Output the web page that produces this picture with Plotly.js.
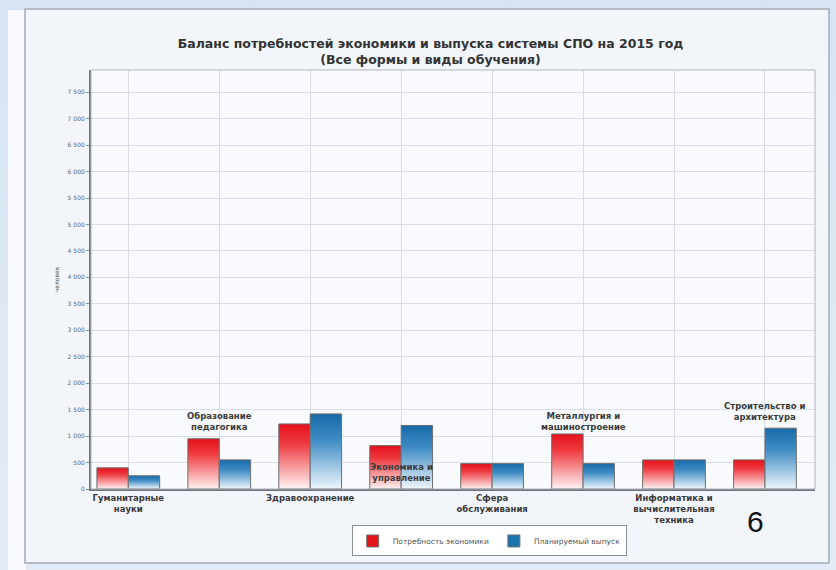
<!DOCTYPE html>
<html>
<head>
<meta charset="utf-8">
<script src="https://cdn.plot.ly/plotly-3.0.1.min.js"></script>
<style>
  html, body { margin:0; padding:0; width:836px; height:570px; overflow:hidden; }
  body { background: linear-gradient(180deg, #d6e4f2 0%, #e3ecf6 100%); position:relative; font-family:"Liberation Sans", Arial, sans-serif; }
  #strip { position:absolute; left:8px; top:10px; width:18px; height:560px; background:#f7f9fc; }
  #panel { position:absolute; left:24px; top:8px; width:806px; height:556px; background:#f2f5fa; border:2px solid #b5bcc5; box-sizing:border-box; }
  #chart { position:absolute; left:0; top:0; width:836px; height:570px; }
</style>
</head>
<body>
<div id="strip"></div>
<div id="panel"></div>
<div id="chart"></div>
<script>
// ---- data ----
const categories = [
  "Гуманитарные<br>науки",
  "Образование<br>педагогика",
  "Здравоохранение",
  "Экономика и<br>управление",
  "Сфера<br>обслуживания",
  "Металлургия и<br>машиностроение",
  "Информатика и<br>вычислительная<br>техника",
  "Строительство и<br>архитектура"
];
const demand = [400, 950, 1230, 820, 480, 1040, 550, 550];   // Потребность экономики
const output = [250, 550, 1420, 1200, 480, 480, 550, 1150];  // Планируемый выпуск
const seriesNames = ["Потребность экономики", "Планируемый выпуск"];
const titleText = "<b>Баланс потребностей экономики и выпуска системы СПО на 2015 год</b><br><b>(Все формы и виды обучения)</b>";
const yTitle = "человек";
const slideNumber = "6";

// ---- layout helpers (positions kept out of data) ----
const upperLabelY = {1: 0.160, 3: 0.040, 5: 0.162, 7: 0.184};
const catIdx = categories.map((c, i) => i);
const tickText = categories.map((c, i) => (i % 2 === 0 ? "<b>" + c + "</b>" : ""));
const labelFont = { family: "DejaVu Sans", size: 8.5, color: "#3a3a3a" };

const traces = [
  { type: "bar", name: seriesNames[0], x: catIdx, y: demand,
    marker: { color: "#e3141c", line: { color: "#6f6f6f", width: 1 } }, hoverinfo: "none" },
  { type: "bar", name: seriesNames[1], x: catIdx, y: output,
    marker: { color: "#1d72b0", line: { color: "#6f6f6f", width: 1 } }, hoverinfo: "none" }
];

const annotations = Object.keys(upperLabelY).map(k => ({
  x: Number(k), xref: "x", y: upperLabelY[k], yref: "paper",
  xanchor: "center", yanchor: "middle",
  text: "<b>" + categories[k] + "</b>", showarrow: false, align: "center",
  font: labelFont
}));
annotations.push({
  x: 0.918, xref: "paper", y: -0.077, yref: "paper", xanchor: "center", yanchor: "middle",
  text: slideNumber, showarrow: false,
  font: { family: "Liberation Sans", size: 30, color: "#111111" }
});

const layout = {
  width: 836, height: 570,
  paper_bgcolor: "rgba(0,0,0,0)",
  plot_bgcolor: "#f8fafd",
  margin: { l: 91, r: 21, t: 70, b: 81 },
  separators: ", ",
  title: { text: titleText, x: 0.515, xanchor: "center", y: 0.916, yanchor: "middle",
           font: { family: "DejaVu Sans", size: 12.5, color: "#333333" } },
  bargap: 0.31, bargroupgap: 0,
  barmode: "group",
  showlegend: true,
  legend: { orientation: "h", x: 0.55, xanchor: "center", y: -0.124, yanchor: "middle",
            bgcolor: "#ffffff", bordercolor: "#8a8f96", borderwidth: 1,
            font: { family: "DejaVu Sans", size: 7.5, color: "#555555" },
            itemwidth: 30, tracegroupgap: 0 },
  xaxis: {
    type: "linear", range: [-0.41, 7.55],
    tickmode: "array", tickvals: catIdx, ticktext: tickText,
    tickfont: labelFont,
    showgrid: true, gridcolor: "#d9dee6", gridwidth: 1,
    zeroline: false, showline: true, linecolor: "#6e737a", linewidth: 2, mirror: false,
    ticks: "", fixedrange: true
  },
  yaxis: {
    range: [0, 7920], dtick: 500, tick0: 0,
    separatethousands: true,
    tickfont: { family: "DejaVu Sans", size: 6, color: "#666666" },
    title: { text: yTitle, standoff: 8, font: { family: "DejaVu Sans", size: 6, color: "#555555" } },
    showgrid: true, gridcolor: "#d9dee6", gridwidth: 1,
    zeroline: false, showline: true, linecolor: "#6e737a", linewidth: 2,
    ticks: "outside", ticklen: 3, tickcolor: "#8a8f96", fixedrange: true
  },
  shapes: [
    { type: "rect", xref: "paper", yref: "paper", x0: 0, x1: 1, y0: 0, y1: 1,
      line: { color: "#b0b6be", width: 1 }, fillcolor: "rgba(0,0,0,0)", layer: "above" }
  ],
  annotations: annotations
};

function applyGradients(gd) {
  const svg = gd.querySelector("svg.main-svg");
  if (!svg) return;
  let defs = svg.querySelector("defs");
  if (!defs) { defs = document.createElementNS("http://www.w3.org/2000/svg", "defs"); svg.insertBefore(defs, svg.firstChild); }
  const grads = [
    { id: "gradRed", stops: [["0%", "#e5101a"], ["30%", "#ee3a40"], ["100%", "#fff3f3"]] },
    { id: "gradBlue", stops: [["0%", "#176aa8"], ["35%", "#3f8cc4"], ["100%", "#eef7fd"]] }
  ];
  grads.forEach(g => {
    if (defs.querySelector("#" + g.id)) return;
    const lg = document.createElementNS("http://www.w3.org/2000/svg", "linearGradient");
    lg.setAttribute("id", g.id);
    lg.setAttribute("x1", "0"); lg.setAttribute("y1", "0");
    lg.setAttribute("x2", "0"); lg.setAttribute("y2", "1");
    g.stops.forEach(s => {
      const st = document.createElementNS("http://www.w3.org/2000/svg", "stop");
      st.setAttribute("offset", s[0]); st.setAttribute("stop-color", s[1]);
      lg.appendChild(st);
    });
    defs.appendChild(lg);
  });
  const traceGroups = gd.querySelectorAll(".barlayer .trace.bars");
  traceGroups.forEach((tg, i) => {
    const id = i === 0 ? "gradRed" : "gradBlue";
    tg.querySelectorAll("path").forEach(p => { p.style.fill = "url(#" + id + ")"; });
  });
}

const gd = document.getElementById("chart");
Plotly.newPlot(gd, traces, layout, { staticPlot: true, displayModeBar: false }).then(() => {
  applyGradients(gd);
});
</script>
</body>
</html>
